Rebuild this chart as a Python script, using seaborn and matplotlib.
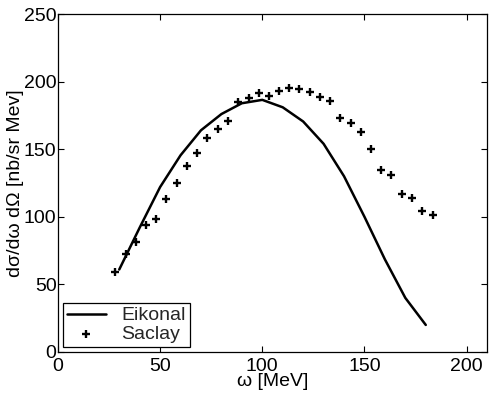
import matplotlib
matplotlib.use("Agg")
import matplotlib.pyplot as plt
import seaborn as sns
import pandas as pd

eik_w = [30, 40, 50, 60, 70, 80, 90, 100, 110, 120, 130, 140, 150, 160, 170, 180]
eik_y = [61, 92, 122, 145.5, 164, 176, 184, 186.5, 181, 170.5, 154, 130, 100, 68.5, 40, 20]

sac_w = [28.1, 33.2, 38.2, 43.1, 48.2, 53.1, 58.2, 63.1, 68.1, 73.1, 78.3, 83.3, 88.2, 93.3,
         98.4, 103.3, 108.2, 113.2, 118.1, 123.2, 128.3, 133.3, 138.2, 143.3, 148.3, 153.3,
         158.3, 163.2, 168.3, 173.2, 178.3, 183.3]
sac_y = [59, 72.7, 81.6, 93.7, 98.6, 112.9, 125.2, 137.8, 147.2, 158, 164.7, 170.6, 185.1, 187.9,
         191.6, 189.1, 193.0, 195.3, 194.3, 192.3, 188.6, 185.7, 173.1, 169.4, 162.5, 150.2,
         134.4, 131.1, 117.1, 113.9, 104.3, 101.1]

xticks = [0, 50, 100, 150, 200]
yticks = [0, 50, 100, 150, 200, 250]

sns.set_theme(style="white")
plt.rcParams['font.family'] = ['Liberation Sans', 'DejaVu Sans']
plt.rcParams['font.size'] = 14

fig = plt.figure(figsize=(4.91, 3.97), dpi=100)
ax = fig.add_axes([0.118, 0.1134, 0.874, 0.8513])

eik = pd.DataFrame({"w": eik_w, "y": eik_y})
sac = pd.DataFrame({"w": sac_w, "y": sac_y})

sns.lineplot(data=eik, x="w", y="y", ax=ax, color="black", linewidth=1.8, label="Eikonal")
sns.scatterplot(data=sac, x="w", y="y", ax=ax, marker="+", s=26, color="black",
                linewidth=1.7, label="Saclay")

ax.set_xlim(0, 210)
ax.set_ylim(0, 250)
ax.set_xticks(xticks)
ax.set_yticks(yticks)
ax.tick_params(direction="in", length=4, width=0.8, labelsize=14, colors="black",
               top=True, right=True, bottom=True, left=True)
ax.tick_params(axis="x", pad=4)
ax.tick_params(axis="y", pad=1)
for s in ax.spines.values():
    s.set_color("black")
    s.set_linewidth(0.9)

ax.set_xlabel("ω [MeV]", fontsize=14, labelpad=-1, color="black")
ax.set_ylabel("dσ/dω dΩ [nb/sr Mev]", fontsize=14, labelpad=0, color="black")

leg = ax.legend(loc="lower left", bbox_to_anchor=(0.012, 0.015), borderaxespad=0,
                fancybox=False, edgecolor="black", framealpha=1, fontsize=14,
                handlelength=2.0, handletextpad=0.8, borderpad=0.2, labelspacing=0.05)
leg.get_frame().set_linewidth(0.9)

fig.savefig("out.png", dpi=100)
